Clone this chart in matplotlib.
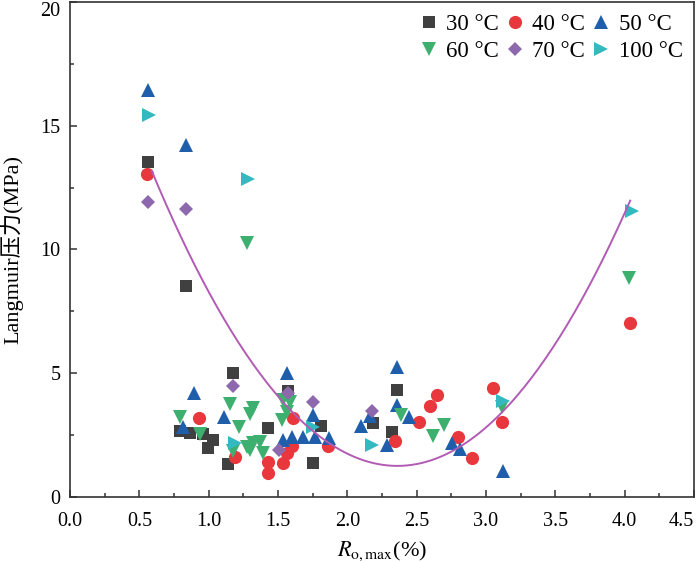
import numpy as np
import matplotlib
matplotlib.use("Agg")
import matplotlib.pyplot as plt

plt.rcParams['font.family'] = ['Liberation Serif', 'Noto Sans CJK SC']
plt.rcParams['mathtext.fontset'] = 'stix'

# Ro,max (%) / Langmuir pressure (MPa)
x_30 = [0.565, 0.834, 1.178, 0.793, 0.865, 0.961, 1.033, 0.997, 1.43, 1.137,
        1.574, 1.808, 1.75, 2.36, 2.183, 2.32]
y_30 = [13.52, 8.54, 5.00, 2.68, 2.57, 2.53, 2.30, 1.97, 2.77, 1.33,
        4.29, 2.87, 1.39, 4.32, 2.98, 2.64]

x_40 = [0.553, 0.932, 1.19, 1.43, 1.43, 1.606, 1.599, 1.562, 1.538, 1.863,
        2.344, 2.649, 2.596, 2.517, 2.80, 2.897, 3.048, 3.113, 4.04]
y_40 = [13.04, 3.18, 1.60, 1.43, 0.98, 3.18, 2.06, 1.77, 1.39, 2.06,
        2.26, 4.12, 3.68, 3.02, 2.41, 1.56, 4.39, 3.04, 7.02]

x_50 = [0.565, 0.834, 0.894, 1.11, 0.817, 1.567, 1.75, 1.538, 1.599, 1.678,
        1.767, 1.87, 2.096, 2.356, 2.356, 2.163, 2.447, 2.288, 2.753, 2.812, 3.12]
y_50 = [16.44, 14.22, 4.19, 3.22, 2.82, 5.00, 3.31, 2.30, 2.41, 2.41,
        2.44, 2.37, 2.87, 5.27, 3.72, 3.27, 3.22, 2.10, 2.17, 1.92, 1.06]

x_60 = [1.274, 4.033, 1.154, 1.322, 1.298, 0.793, 1.221, 0.937, 1.178, 1.274,
        1.322, 1.37, 1.394, 1.298, 1.538, 1.586, 1.562, 1.527, 2.385, 2.697,
        2.615, 3.113]
y_60 = [10.25, 8.84, 3.76, 3.58, 3.35, 3.22, 2.82, 2.53, 1.87, 2.03,
        2.17, 2.23, 1.77, 1.90, 3.92, 3.85, 3.45, 3.11, 3.31, 2.91,
        2.46, 3.62]

x_70 = [0.565, 0.837, 1.173, 1.508, 1.574, 1.755, 2.176]
y_70 = [11.91, 11.62, 4.48, 1.88, 4.21, 3.85, 3.49]

x_100 = [0.572, 1.281, 4.05, 1.19, 1.755, 2.176, 3.125]
y_100 = [15.43, 12.85, 11.57, 2.17, 2.82, 2.10, 3.89]

# quadratic trend line (coefficients)
fit_coef = [3.80, -17.94, 22.43]
fit_range = [0.59, 4.04]

series = [
    ("30 °C", x_30, y_30, 's', '#404040', 8.5),
    ("40 °C", x_40, y_40, 'o', '#e8383d', 9.5),
    ("50 °C", x_50, y_50, '^', '#1f5eab', 10),
    ("60 °C", x_60, y_60, 'v', '#3daf6e', 10),
    ("70 °C", x_70, y_70, 'D', '#8e68ad', 7.2),
    ("100 °C", x_100, y_100, '>', '#35b9c1', 10),
]

fig = plt.figure(figsize=(7, 5.62), dpi=100)
ax = fig.add_axes([0.1, 0.1157, 0.8914, 0.8807])

handles = []
for label, xs, ys, mk, col, ms in series:
    h, = ax.plot(xs, ys, linestyle='none', marker=mk, color=col, markersize=ms,
                 markeredgewidth=0, label=label)
    handles.append(h)

xf = np.linspace(fit_range[0], fit_range[1], 200)
ax.plot(xf, np.polyval(fit_coef, xf), color='#b25bb4', lw=1.4)

ax.set_xlim(0, 4.5)
ax.set_ylim(0, 20)
ax.set_xticks(np.arange(0, 4.51, 0.5))
ax.set_xticks(np.arange(0.25, 4.5, 0.5), minor=True)
ax.set_yticks([0, 5, 10, 15, 20])
ax.set_yticks([2.5, 7.5, 12.5, 17.5], minor=True)
ax.xaxis.set_major_formatter(matplotlib.ticker.FormatStrFormatter('%.1f'))
ax.tick_params(which='both', direction='in', labelsize=14.5, color='#333333',
               top=False, right=False)
ax.tick_params(which='major', length=5, width=1.1)
ax.tick_params(axis='x', which='major', pad=11)
ax.tick_params(axis='y', which='major', pad=7)
ax.tick_params(which='minor', length=3, width=1.1)
for sp in ax.spines.values():
    sp.set_color('#333333')
    sp.set_linewidth(1.2)

# keep the edge labels inside the picture, as in the original
fig.canvas.draw()
ax.get_xticklabels()[-1].set_horizontalalignment('right')
ax.get_yticklabels()[-1].set_verticalalignment('top')

ax.set_xlabel(r'$R_{\mathrm{o,max}}$(%)', fontsize=16, labelpad=6)
ax.set_ylabel('Langmuir压力(MPa)', fontsize=16, labelpad=12)

order = [0, 3, 1, 4, 2, 5]
ax.legend([handles[i] for i in order], [series[i][0] for i in order],
          loc='upper right', ncol=3, frameon=False, fontsize=16.5,
          handletextpad=0.45, columnspacing=0.4, handlelength=0.6,
          borderaxespad=0.1, labelspacing=0.3)

fig.savefig("out.png", dpi=100)
